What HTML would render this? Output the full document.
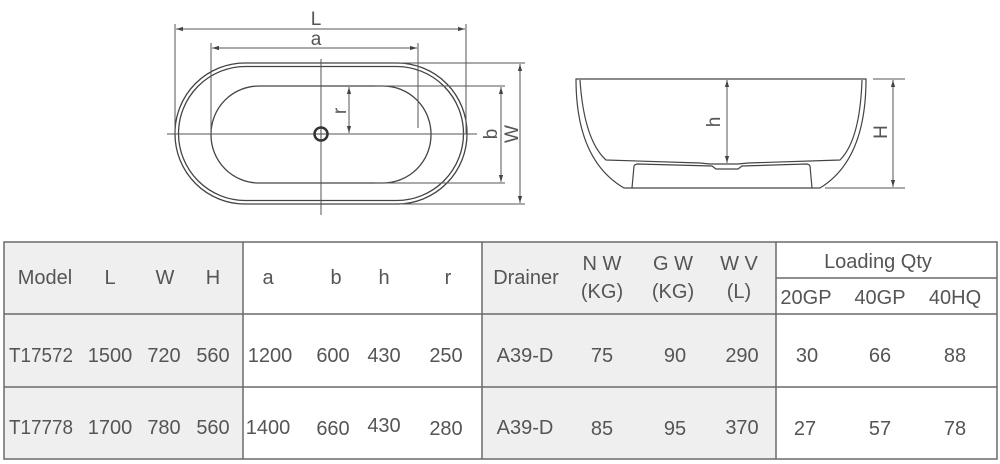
<!DOCTYPE html>
<html><head><meta charset="utf-8"><style>
html,body{margin:0;padding:0;background:#fff;}
body{width:1000px;height:464px;overflow:hidden;position:relative;font-family:"Liberation Sans",sans-serif;}
svg{position:absolute;left:0;top:0;}
</style></head><body>
<svg width="1000" height="464" viewBox="0 0 1000 464" xmlns="http://www.w3.org/2000/svg">
<defs>
<marker id="ar" viewBox="0 0 10 10" refX="10" refY="5" markerWidth="7" markerHeight="7" orient="auto-start-reverse" markerUnits="userSpaceOnUse"><path d="M0,2 L10,5 L0,8 z" fill="#444"/></marker>
</defs>
<g fill="none" stroke="#444" stroke-width="1.3">
<rect x="175" y="63" width="292" height="141" rx="70" ry="70"/>
<rect x="178.5" y="66.5" width="285" height="134" rx="67" ry="67"/>
<rect x="211" y="86" width="220" height="97" rx="48" ry="48"/>
</g>
<g stroke="#555" stroke-width="1" fill="none">
<line x1="167" y1="134" x2="477" y2="134"/>
<line x1="321" y1="59" x2="321" y2="215"/>
<line x1="175" y1="24" x2="175" y2="134"/>
<line x1="466" y1="24" x2="466" y2="134"/>
<line x1="211" y1="43" x2="211" y2="134"/>
<line x1="418" y1="43" x2="418" y2="128"/>
<line x1="176" y1="29" x2="465" y2="29" marker-start="url(#ar)" marker-end="url(#ar)"/>
<line x1="212" y1="48" x2="417" y2="48" marker-start="url(#ar)" marker-end="url(#ar)"/>
<line x1="349" y1="87" x2="349" y2="133" marker-start="url(#ar)" marker-end="url(#ar)"/>
<line x1="375" y1="86" x2="505" y2="86"/>
<line x1="375" y1="183" x2="505" y2="183"/>
<line x1="400" y1="63" x2="525" y2="63"/>
<line x1="400" y1="204" x2="525" y2="204"/>
<line x1="501" y1="87" x2="501" y2="182" marker-start="url(#ar)" marker-end="url(#ar)"/>
<line x1="520" y1="64" x2="520" y2="203" marker-start="url(#ar)" marker-end="url(#ar)"/>
</g>
<circle cx="321" cy="134" r="6.5" fill="#fff" stroke="#333" stroke-width="2.5"/>
<line x1="315" y1="134" x2="327" y2="134" stroke="#444" stroke-width="1"/>
<line x1="321" y1="128" x2="321" y2="140" stroke="#444" stroke-width="1"/>
<g font-family="Liberation Sans, sans-serif" font-size="19" fill="#555">
<text x="316" y="25" text-anchor="middle">L</text>
<text x="316" y="45" text-anchor="middle">a</text>
<text transform="translate(346,111) rotate(-90)" text-anchor="middle">r</text>
<text transform="translate(497,134) rotate(-90)" text-anchor="middle">b</text>
<text transform="translate(518,134) rotate(-90)" text-anchor="middle">W</text>
</g>
<g fill="none" stroke="#444" stroke-width="1.2">
<path d="M576,79 L866,79 Q866,160 820,188 L624,188 Q576,160 576,79 Z"/>
<path d="M580,80 Q584,140 606,160 L700,163 L710,164 L738,164 L748,163 L840,160 Q860,140 862,80"/>
<path d="M632,188 L634,166 Q635,164 638,164 L712,166 L716,169 L738,169 L742,166 L806,164 Q809,164 810,166 L812,188"/>
</g>
<g stroke="#555" stroke-width="1" fill="none">
<line x1="727" y1="80" x2="727" y2="163" marker-start="url(#ar)" marker-end="url(#ar)"/>
<line x1="873" y1="79" x2="905" y2="79"/>
<line x1="825" y1="188" x2="905" y2="188"/>
<line x1="893" y1="80" x2="893" y2="187" marker-start="url(#ar)" marker-end="url(#ar)"/>
</g>
<g font-family="Liberation Sans, sans-serif" font-size="19" fill="#555">
<text transform="translate(720,122) rotate(-90)" text-anchor="middle">h</text>
<text transform="translate(887,132) rotate(-90)" text-anchor="middle">H</text>
</g>
<rect x="4" y="242" width="239" height="217" fill="#efefef"/>
<rect x="482" y="242" width="294" height="217" fill="#efefef"/>
<g stroke="#6a6a6a" stroke-width="1.5" fill="none">
<rect x="4" y="242" width="993" height="217"/>
<line x1="4" y1="314" x2="997" y2="314"/>
<line x1="4" y1="387" x2="997" y2="387"/>
<line x1="243" y1="242" x2="243" y2="459"/>
<line x1="482" y1="242" x2="482" y2="459"/>
<line x1="776" y1="242" x2="776" y2="459"/>
<line x1="776" y1="278" x2="997" y2="278"/>
</g>
<g font-family="Liberation Sans, sans-serif" font-size="20" fill="#555" text-anchor="middle">
<text x="45" y="284">Model</text><text x="110" y="284">L</text><text x="165" y="284">W</text><text x="213" y="284">H</text>
<text x="268" y="284">a</text><text x="336" y="284">b</text><text x="384" y="284">h</text><text x="448" y="284">r</text>
<text x="526" y="284">Drainer</text>
<text x="602" y="270">N W</text><text x="602" y="298">(KG)</text>
<text x="673" y="270">G W</text><text x="673" y="298">(KG)</text>
<text x="739" y="270">W V</text><text x="739" y="298">(L)</text>
<text x="878" y="268">Loading Qty</text>
<text x="806" y="304">20GP</text><text x="880" y="304">40GP</text><text x="955" y="304">40HQ</text>
<text x="41" y="362" textLength="64" lengthAdjust="spacingAndGlyphs">T17572</text><text x="110" y="362">1500</text><text x="164" y="362">720</text><text x="213" y="362">560</text>
<text x="270" y="362">1200</text><text x="333" y="362">600</text><text x="384" y="362">430</text><text x="446" y="362">250</text>
<text x="525" y="362">A39-D</text><text x="602" y="362">75</text><text x="675" y="362">90</text><text x="742" y="362">290</text>
<text x="807" y="362">30</text><text x="880" y="362">66</text><text x="955" y="362">88</text>
<text x="41" y="434" textLength="64" lengthAdjust="spacingAndGlyphs">T17778</text><text x="110" y="434">1700</text><text x="164" y="434">780</text><text x="213" y="434">560</text>
<text x="268" y="434">1400</text><text x="333" y="435">660</text><text x="384" y="432">430</text><text x="446" y="435">280</text>
<text x="525" y="434">A39-D</text><text x="602" y="435">85</text><text x="675" y="435">95</text><text x="742" y="434">370</text>
<text x="805" y="435">27</text><text x="880" y="435">57</text><text x="955" y="435">78</text>
</g>
</svg>
</body></html>
